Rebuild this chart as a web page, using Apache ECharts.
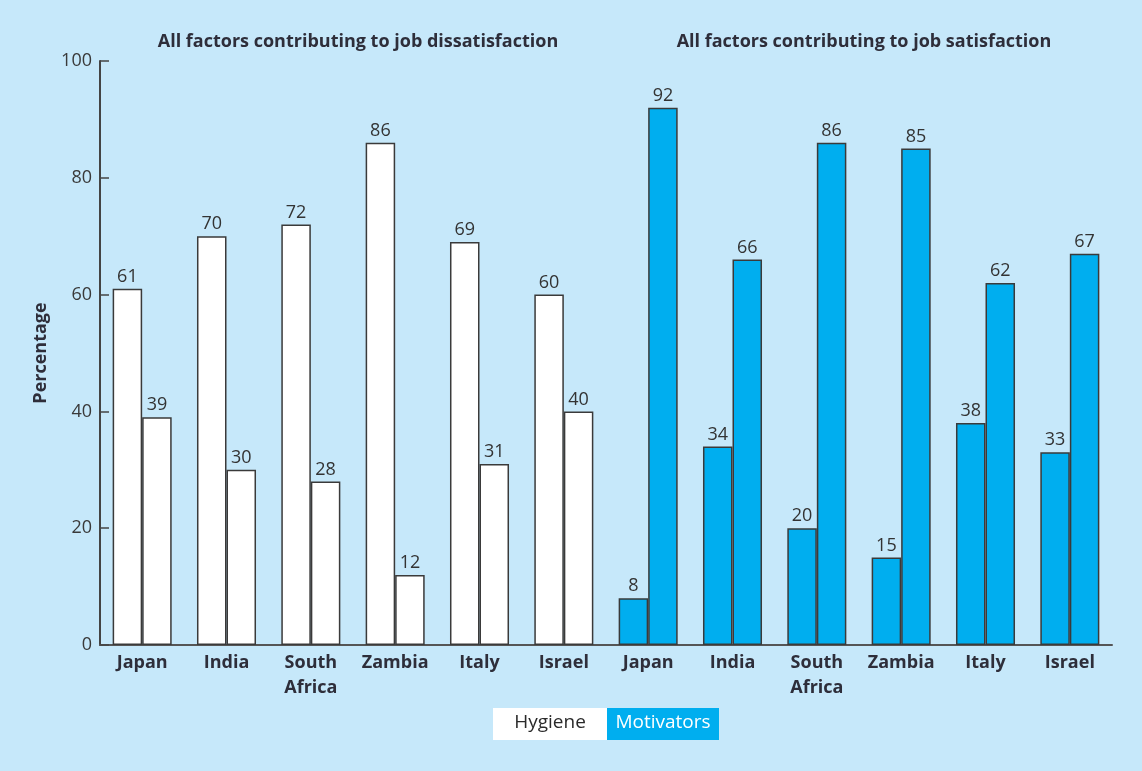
<!DOCTYPE html>
<html>
<head>
<meta charset="utf-8">
<script src="https://cdn.jsdelivr.net/npm/echarts@6/dist/echarts.min.js"></script>
<style>
html,body{margin:0;padding:0;background:#c6e8fa;}
#chart{width:1142px;height:771px;}
</style>
</head>
<body>
<div id="chart"></div>
<script>
const countries = ['Japan', 'India', 'South\nAfrica', 'Zambia', 'Italy', 'Israel'];
const categories = countries.concat(countries);
const leftBars = [61, 70, 72, 86, 69, 60, 8, 34, 20, 15, 38, 33];
const rightBars = [39, 30, 28, 12, 31, 40, 92, 66, 86, 85, 62, 67];
const panelTitles = ['All factors contributing to job dissatisfaction', 'All factors contributing to job satisfaction'];
const legendNames = ['Hygiene', 'Motivators'];
const yTicks = [0, 20, 40, 60, 80, 100];

const FONT = '"Open Sans", Lato, sans-serif';
const WHITE = '#ffffff';
const BLUE = '#00aeef';
const BG = '#c6e8fa';
const TEXT = '#2e2e3a';

function colored(vals) {
  return vals.map((v, i) => ({ value: v, itemStyle: { color: i < 6 ? WHITE : BLUE } }));
}

const chart = echarts.init(document.getElementById('chart'));
const labelCfg = { show: true, position: 'top', distance: 3, fontSize: 18, color: '#333', fontFamily: FONT };
const itemCfg = { borderColor: '#3a3a3a', borderWidth: 1.5 };

chart.setOption({
  backgroundColor: BG,
  animation: false,
  title: [
    { text: panelTitles[0], left: 353, top: 28, textAlign: 'center', textStyle: { fontSize: 18, fontWeight: 'bold', color: TEXT, fontFamily: FONT } },
    { text: panelTitles[1], left: 859, top: 28, textAlign: 'center', textStyle: { fontSize: 18, fontWeight: 'bold', color: TEXT, fontFamily: FONT } }
  ],
  grid: { left: 100, right: 30, top: 61, bottom: 126, containLabel: false },
  xAxis: {
    type: 'category',
    data: categories,
    axisLine: { lineStyle: { color: '#555', width: 2 } },
    axisTick: { inside: true, length: 10, lineStyle: { color: '#555', width: 1.5 } },
    axisLabel: { fontSize: 18, fontWeight: 'bold', color: TEXT, fontFamily: FONT, lineHeight: 25, margin: 5, interval: 0 }
  },
  yAxis: {
    type: 'value',
    min: 0, max: 100, interval: 20,
    name: 'Percentage',
    nameLocation: 'middle',
    nameGap: 50,
    nameTextStyle: { fontSize: 18, fontWeight: 'bold', color: TEXT, fontFamily: FONT },
    axisLine: { show: true, lineStyle: { color: '#444', width: 2 } },
    axisTick: { show: true, inside: true, length: 9, lineStyle: { color: '#444', width: 1.5 } },
    axisLabel: { fontSize: 18, color: '#3a3a3a', fontFamily: FONT, margin: 8,
      formatter: v => yTicks.includes(v) ? String(v) : '' },
    splitLine: { show: false }
  },
  series: [
    { type: 'bar', data: colored(leftBars), barGap: '0%', barCategoryGap: '30%', label: labelCfg, itemStyle: itemCfg },
    { type: 'bar', data: colored(rightBars), barGap: '0%', barCategoryGap: '30%', label: labelCfg, itemStyle: itemCfg }
  ],
  graphic: [
    { type: 'rect', left: 493, top: 708, shape: { width: 114, height: 32 }, style: { fill: WHITE } },
    { type: 'rect', left: 607, top: 708, shape: { width: 112, height: 32 }, style: { fill: BLUE } },
    { type: 'text', x: 550, y: 723, style: { text: legendNames[0], fontSize: 19, fill: '#2a2a2a', fontFamily: FONT, align: 'center', verticalAlign: 'middle' } },
    { type: 'text', x: 663, y: 723, style: { text: legendNames[1], fontSize: 19, fill: '#ffffff', fontFamily: FONT, align: 'center', verticalAlign: 'middle' } }
  ]
});
</script>
</body>
</html>
